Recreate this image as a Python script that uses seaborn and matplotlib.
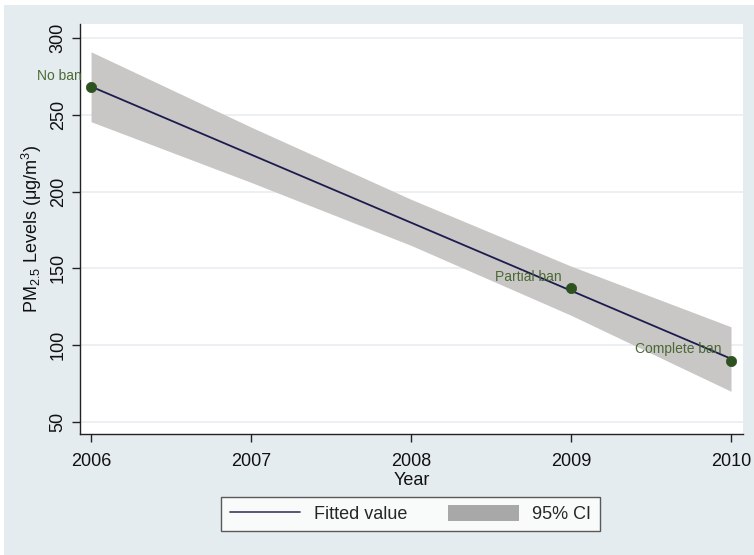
import matplotlib
matplotlib.use("Agg")
import matplotlib.pyplot as plt
from matplotlib.patches import Rectangle, Patch
from matplotlib.lines import Line2D
import seaborn as sns
import pandas as pd

# Observed PM2.5 levels by smoking-ban phase
phase_labels = ["No ban", "Partial ban", "Complete ban"]
phase_years = [2006, 2009, 2010]
phase_pm25 = [268, 137, 90]

# Linear fit with 95% confidence band
fit_years = [2006, 2007, 2008, 2009, 2010]
fit_values = [268.4, 224.1, 179.8, 135.5, 91.2]
ci_lower = [245.5, 206.0, 165.0, 119.5, 70.0]
ci_upper = [291.0, 242.0, 195.0, 151.5, 112.0]

x_ticks = [2006, 2007, 2008, 2009, 2010]
y_ticks = [50, 100, 150, 200, 250, 300]

BG = "#e5ecf0"
FIT_COLOR = "#1c1c4e"
CI_COLOR = "#c9c6c6"
POINT_COLOR = "#2d5220"
LABEL_COLOR = "#4a6a34"

sns.set_theme(style="white")
plt.rcParams["font.family"] = ["Liberation Sans", "DejaVu Sans"]
plt.rcParams["mathtext.fontset"] = "custom"
plt.rcParams["mathtext.rm"] = "Liberation Sans"
plt.rcParams["mathtext.it"] = "Liberation Sans:italic"
plt.rcParams["mathtext.default"] = "regular"

fig = plt.figure(figsize=(7.54, 5.55), dpi=100, facecolor="white")
fig.patches.append(Rectangle((4 / 754, 0), 750 / 754, 550 / 555,
                             transform=fig.transFigure, facecolor=BG,
                             edgecolor="none", zorder=-10))
ax = fig.add_axes([80 / 754, 1 - 434 / 555, 663 / 754, 410 / 555])
ax.set_facecolor("white")

fit_df = pd.DataFrame({"year": fit_years, "fit": fit_values,
                       "lo": ci_lower, "hi": ci_upper})
obs_df = pd.DataFrame({"year": phase_years, "pm": phase_pm25,
                       "label": phase_labels})

ax.fill_between(fit_df["year"], fit_df["lo"], fit_df["hi"],
                color=CI_COLOR, linewidth=0, zorder=1)
sns.lineplot(data=fit_df, x="year", y="fit", ax=ax, color=FIT_COLOR,
             linewidth=1.3, zorder=3, legend=False)
sns.scatterplot(data=obs_df, x="year", y="pm", ax=ax, color=POINT_COLOR,
                s=55, edgecolor=POINT_COLOR, linewidth=0.5, zorder=4,
                legend=False)

for _, row in obs_df.iterrows():
    ax.annotate(row["label"], (row["year"], row["pm"]),
                xytext=(-7, 8), textcoords="offset points",
                ha="right", va="center", fontsize=10, color=LABEL_COLOR,
                zorder=5)

ax.set_xlim(2005.931, 2010.075)
ax.set_ylim(42.2, 309.1)
ax.set_xticks(x_ticks)
ax.set_yticks(y_ticks)
ax.set_xticklabels([str(v) for v in x_ticks])
ax.set_yticklabels([str(v) for v in y_ticks], rotation=90, va="center")

for v in y_ticks:
    ax.axhline(v, color="#e9eef1", linewidth=1.2, zorder=0)

for side in ("top", "right"):
    ax.spines[side].set_visible(False)
for side in ("left", "bottom"):
    ax.spines[side].set_color("#222222")
    ax.spines[side].set_linewidth(1.0)

ax.tick_params(axis="both", direction="out", length=6, width=1,
               color="#222222", labelsize=13, labelcolor="#111111",
               left=True, bottom=True)
ax.tick_params(axis="x", pad=8)
ax.tick_params(axis="y", pad=3.5)

ax.set_xlabel("Year", fontsize=13, color="#111111", labelpad=1)
ax.set_ylabel(r"PM$_{2.5}$ Levels (μg/m$^3$)", fontsize=13,
              color="#111111", labelpad=4)

handles = [Line2D([0], [0], color="#3a3a5c", linewidth=1.2),
           Patch(facecolor="#a8a8a8", edgecolor="none")]
leg = fig.legend(handles, ["Fitted value", "95% CI"], ncol=2,
                 loc="center", bbox_to_anchor=(410.5 / 754, 1 - 514 / 555),
                 frameon=True, fancybox=False, fontsize=13,
                 handlelength=3.9, handleheight=1.0, handletextpad=0.75,
                 columnspacing=2.3, borderpad=0.45)
leg.get_frame().set_edgecolor("#333333")
leg.get_frame().set_linewidth(1.0)
leg.get_frame().set_facecolor("white")

fig.savefig("out.png", dpi=100, facecolor=fig.get_facecolor())
